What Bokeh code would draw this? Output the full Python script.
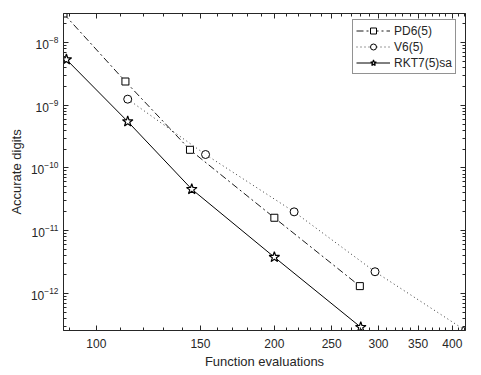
from bokeh.plotting import figure
from bokeh.models import Range1d, FixedTicker, PrintfTickFormatter, LogAxis, Legend, LegendItem, LogTickFormatter
from bokeh.embed import file_html
from bokeh.resources import INLINE

# Data
pd6_x = [88, 112, 144, 200, 279]
pd6_y = [2.9e-8, 2.39e-9, 1.95e-10, 1.61e-11, 1.31e-12]
v6_x = [113, 153, 216, 296, 421]
v6_y = [1.25e-9, 1.64e-10, 2.0e-11, 2.22e-12, 2.57e-13]
rkt_x = [89, 113, 145, 200, 280]
rkt_y = [5.36e-9, 5.5e-10, 4.59e-11, 3.79e-12, 2.9e-13]

x_ticks = [100, 150, 200, 250, 300, 350, 400]
x_minor = [90, 110, 120, 130, 140, 160, 170, 180, 190, 210, 220, 230, 240, 260, 270, 280, 290,
           310, 320, 330, 340, 360, 370, 380, 390, 410, 420]
y_ticks = [1e-12, 1e-11, 1e-10, 1e-9, 1e-8]
y_minor = [m * 10.0 ** e for e in range(-13, -7) for m in range(2, 10)]

all_x = pd6_x + v6_x + rkt_x
all_y = pd6_y + v6_y + rkt_y

FONT = "Liberation Sans"
TXT = "#262626"

p = figure(width=473, height=375, x_axis_type="log", y_axis_type="log",
           x_range=Range1d(min(all_x), max(all_x)), y_range=Range1d(min(all_y), max(all_y)),
           output_backend="svg", toolbar_location=None,
           min_border_left=63, min_border_right=8, min_border_top=13, min_border_bottom=45)
p.grid.visible = False
p.outline_line_color = TXT
p.outline_line_width = 1
p.background_fill_color = "white"
p.border_fill_color = "white"

def style_axis(ax, labels=True):
    ax.axis_line_color = TXT
    ax.major_tick_line_color = TXT
    ax.minor_tick_line_color = TXT
    ax.major_tick_in = 5
    ax.major_tick_out = 0
    ax.minor_tick_in = 3
    ax.minor_tick_out = 0
    ax.major_label_text_font = FONT
    ax.major_label_text_color = TXT
    ax.axis_label_text_font = FONT
    ax.axis_label_text_color = TXT
    ax.axis_label_text_font_style = "normal"
    if labels:
        ax.major_label_text_font_size = "12px"
        ax.axis_label_text_font_size = "13px"
    else:
        ax.major_label_text_font_size = "0px"
        ax.major_label_standoff = 0

xt = FixedTicker(ticks=x_ticks, minor_ticks=x_minor)
yt = FixedTicker(ticks=y_ticks, minor_ticks=y_minor)

p.xaxis.ticker = xt
p.xaxis.formatter = PrintfTickFormatter(format="%d")
p.yaxis.ticker = yt
p.yaxis.formatter = LogTickFormatter()
for ax in p.xaxis + p.yaxis:
    style_axis(ax)
p.xaxis.axis_label = "Function evaluations"
p.yaxis.axis_label = "Accurate digits"
p.xaxis.major_label_standoff = 8
p.xaxis.axis_label_standoff = 3
p.yaxis.major_label_standoff = 5
p.yaxis.axis_label_standoff = 4

top = LogAxis(ticker=FixedTicker(ticks=x_ticks, minor_ticks=x_minor), formatter=PrintfTickFormatter(format=""))
style_axis(top, labels=False)
p.add_layout(top, "above")
right = LogAxis(ticker=FixedTicker(ticks=y_ticks, minor_ticks=y_minor), formatter=PrintfTickFormatter(format=""))
style_axis(right, labels=False)
p.add_layout(right, "right")

l1 = p.line(pd6_x, pd6_y, line_color="black", line_width=0.9, line_dash="7 3 2 3")
s1 = p.scatter(pd6_x, pd6_y, marker="square", size=7, fill_color="white", line_color="black", line_width=1)
l2 = p.line(v6_x, v6_y, line_color="#222222", line_width=0.9, line_dash="1 3")
s2 = p.scatter(v6_x, v6_y, marker="circle", size=8, fill_color="white", line_color="black", line_width=1)
l3 = p.line(rkt_x, rkt_y, line_color="black", line_width=1)
s3 = p.scatter(rkt_x, rkt_y, marker="star", size=11, fill_color="white", line_color="black", line_width=1.2)

legend = Legend(items=[LegendItem(label="PD6(5)", renderers=[l1, s1]),
                       LegendItem(label="V6(5)", renderers=[l2, s2]),
                       LegendItem(label="RKT7(5)sa", renderers=[l3, s3])],
                location=(289, 256))
legend.label_text_font = FONT
legend.label_text_font_size = "12px"
legend.label_text_color = TXT
legend.glyph_width = 34
legend.glyph_height = 15
legend.label_height = 15
legend.label_standoff = 4
legend.spacing = 1
legend.padding = 3
legend.margin = 0
legend.border_line_color = TXT
legend.border_line_width = 0.8
legend.background_fill_alpha = 1
p.add_layout(legend)

open("out.html", "w").write(file_html(p, INLINE))
